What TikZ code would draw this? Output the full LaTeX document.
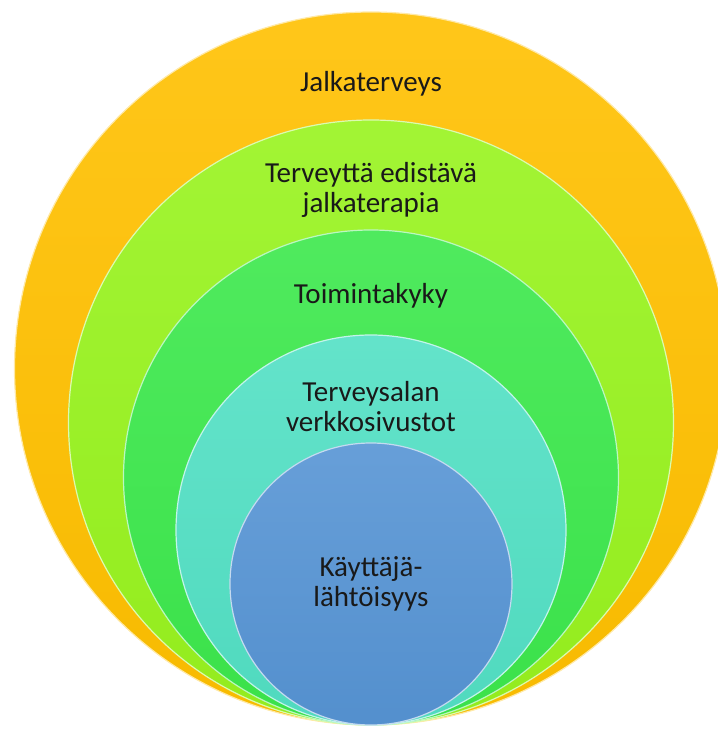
\documentclass[tikz,border=0pt]{standalone}
\usepackage{fontspec}
\setmainfont{Carlito}
\usetikzlibrary{positioning}

\definecolor{ringorange}{RGB}{255,192,0}
\definecolor{ringlime}{RGB}{152,243,30}
\definecolor{ringgreen}{RGB}{60,232,76}
\definecolor{ringteal}{RGB}{82,224,196}
\definecolor{ringblue}{RGB}{86,148,212}

\begin{document}
\begin{tikzpicture}[
		x=0.5pt, y=0.5pt,
		every node/.style={font=\fontsize{14.5}{15}\selectfont},
		ring/.style={circle, draw=white!65!#1, line width=0.6pt, inner sep=0pt, outer sep=0pt, top color=#1!90!white, bottom color=#1!97!black},
		ringtext/.style={align=center, text=black!90, inner sep=0pt},
		]
		\useasboundingbox (0,0) rectangle (718,730);
		\clip (0,0) rectangle (718,730);
		
		% Nested rings, all touching at the bottom
		\node[ring=ringorange, minimum size=356.5pt, anchor=south] (foot) at (371,5) {};
		\node[ring=ringlime, minimum size=302.5pt, anchor=south] (promo) at (foot.south) {};
		\node[ring=ringgreen, minimum size=247.5pt, anchor=south] (func) at (foot.south) {};
		\node[ring=ringteal, minimum size=195pt, anchor=south] (web) at (foot.south) {};
		\node[ring=ringblue, minimum size=141pt, anchor=south] (user) at (foot.south) {};
		
		% Ring labels
		\node[ringtext] (footlbl) at ([yshift=-36pt]foot.north) {Jalkaterveys};
		\node[ringtext] (promolbl) at ([yshift=-35pt]promo.north) {Terveyttä edistävä\\jalkaterapia};
		\node[ringtext] (funclbl) at ([yshift=-33pt]func.north) {Toimintakyky};
		\node[ringtext] (weblbl) at ([yshift=-36pt]web.north) {Terveysalan\\verkkosivustot};
		\node[ringtext] (userlbl) at (user.center) {Käyttäjä-\\lähtöisyys};
		
	\end{tikzpicture}
\end{document}
